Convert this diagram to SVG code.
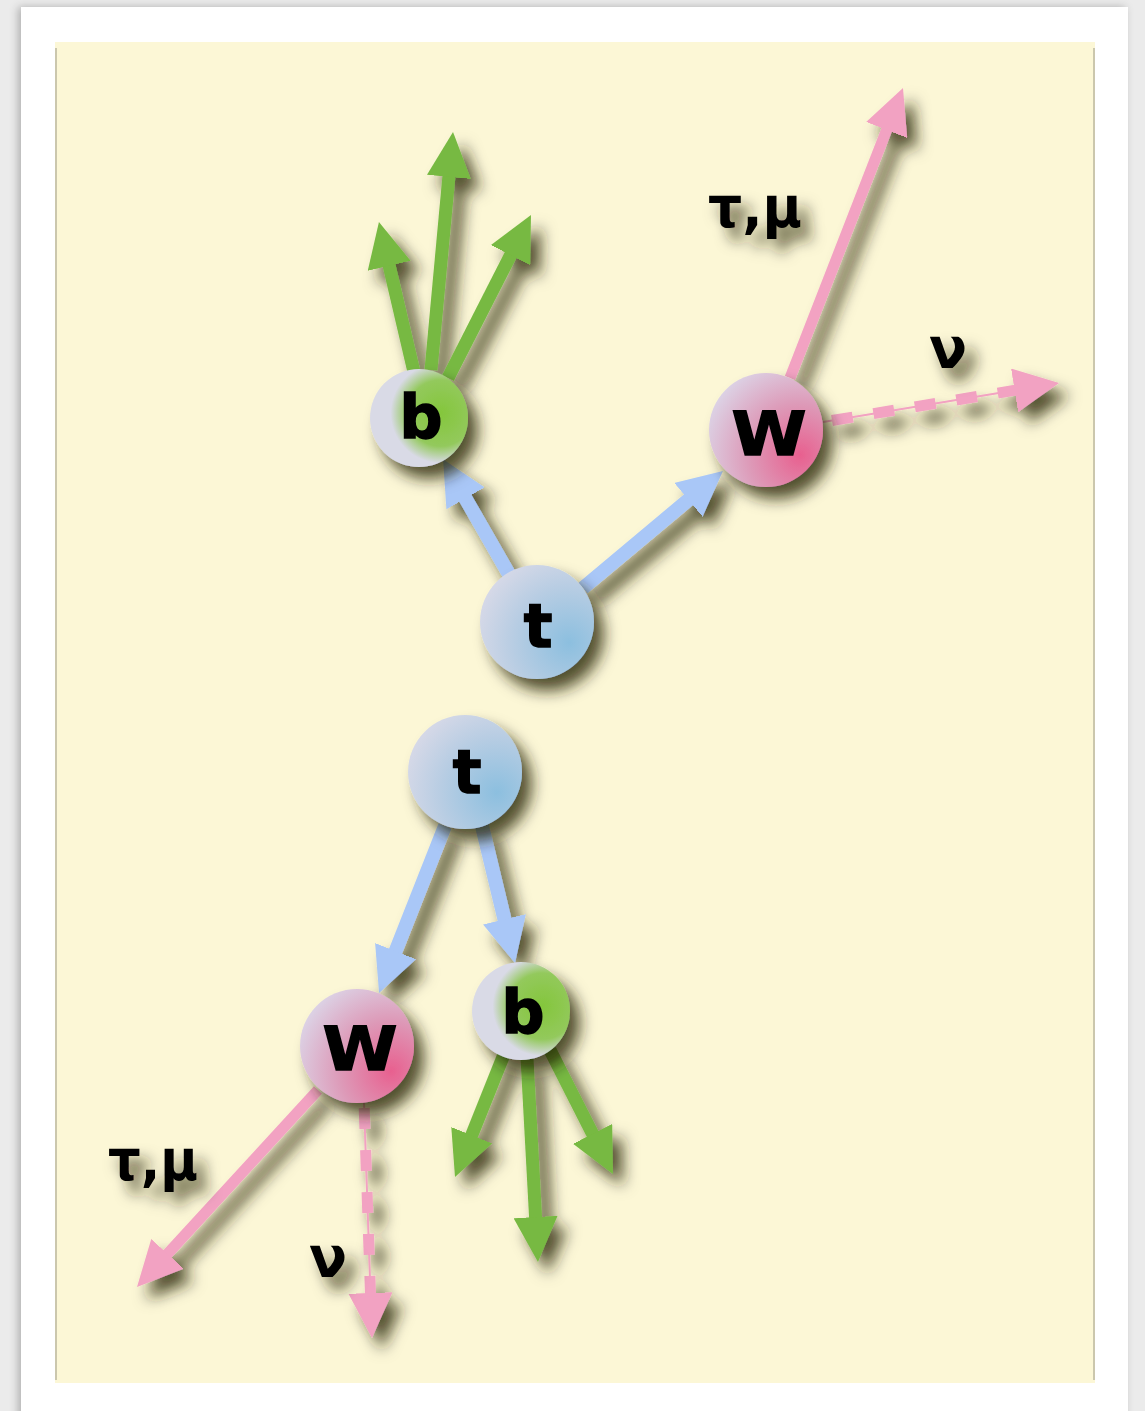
<svg xmlns="http://www.w3.org/2000/svg" width="1145" height="1411" viewBox="0 0 1145 1411">
<defs>
<style>
.node-label{font-family:"DejaVu Sans","Liberation Sans",sans-serif;font-weight:bold;font-size:60px;fill:#000;stroke:#000;stroke-width:1.5px;text-anchor:middle}
.lab{font-family:"DejaVu Sans","Liberation Sans",sans-serif;font-weight:bold;font-size:56px;fill:#000}
.blue{stroke:#a9c7f7;stroke-width:14;fill:none;marker-end:url(#ahBlue)}
.green{stroke:#77b942;stroke-width:13;fill:none;marker-end:url(#ahGreen)}
.pink{stroke:#f2a2c2;stroke-width:11;fill:none;marker-end:url(#ahPink)}
.pinkthin{stroke:#f2a2c2;stroke-width:2;fill:none;marker-end:url(#ahPink)}
.pinkdash{stroke:#f2a2c2;stroke-width:11;fill:none;stroke-dasharray:21 21}
</style>
<filter id="sh" x="-30%" y="-30%" width="170%" height="170%">
<feGaussianBlur in="SourceAlpha" stdDeviation="7.5"/>
<feOffset dx="10" dy="12" result="o"/>
<feFlood flood-color="#222008" flood-opacity="0.78"/>
<feComposite in2="o" operator="in"/>
<feMerge><feMergeNode/><feMergeNode in="SourceGraphic"/></feMerge>
</filter>
<filter id="cardsh" x="-5%" y="-5%" width="110%" height="110%">
<feGaussianBlur in="SourceAlpha" stdDeviation="4"/>
<feOffset dx="-3" dy="0" result="o"/>
<feFlood flood-color="#000" flood-opacity="0.25"/>
<feComposite in2="o" operator="in"/>
<feMerge><feMergeNode/><feMergeNode in="SourceGraphic"/></feMerge>
</filter>
<marker id="ahBlue" markerUnits="userSpaceOnUse" viewBox="0 0 45 44" markerWidth="45" markerHeight="44" refX="10" refY="22" orient="auto"><path d="M0,0 L45,22 L0,44 Z" fill="#a9c7f7"/></marker>
<marker id="ahGreen" markerUnits="userSpaceOnUse" viewBox="0 0 45 44" markerWidth="45" markerHeight="44" refX="10" refY="22" orient="auto"><path d="M0,0 L45,22 L0,44 Z" fill="#77b942"/></marker>
<marker id="ahPink" markerUnits="userSpaceOnUse" viewBox="0 0 45 44" markerWidth="45" markerHeight="44" refX="10" refY="22" orient="auto"><path d="M0,0 L45,22 L0,44 Z" fill="#f2a2c2"/></marker>
<radialGradient id="gB" cx="0.72" cy="0.45" r="0.75">
<stop offset="0" stop-color="#84c63c"/>
<stop offset="0.45" stop-color="#93c95c"/>
<stop offset="0.68" stop-color="#d9dae6"/>
<stop offset="1" stop-color="#d9dae6"/>
</radialGradient>
<radialGradient id="gT" cx="0.78" cy="0.68" r="0.9">
<stop offset="0" stop-color="#8cbfdf"/>
<stop offset="0.55" stop-color="#b8cde3"/>
<stop offset="1" stop-color="#dcdbe8"/>
</radialGradient>
<radialGradient id="gW" cx="0.8" cy="0.72" r="0.9">
<stop offset="0" stop-color="#e8608f"/>
<stop offset="0.5" stop-color="#dd9ab8"/>
<stop offset="1" stop-color="#dcd6e8"/>
</radialGradient>
</defs>

<rect x="0" y="0" width="1145" height="1411" fill="#ebebeb"/>
<rect x="21" y="7" width="1107" height="1420" fill="#ffffff" filter="url(#cardsh)"/>
<rect x="55" y="42" width="1040" height="1341" fill="#fcf7d6"/>
<line x1="56" y1="48" x2="56" y2="1380" stroke="#cbc7ad" stroke-width="2"/>
<line x1="1094" y1="48" x2="1094" y2="1380" stroke="#cbc7ad" stroke-width="2"/>

<g id="connectors" filter="url(#sh)">
<line class="blue" x1="510" y1="576" x2="460.5" y2="489.7"/>
<line class="blue" x1="583" y1="588" x2="696.1" y2="493.4"/>
<line class="blue" x1="445" y1="826" x2="391.9" y2="960.5"/>
<line class="blue" x1="482" y1="826" x2="506.8" y2="929"/>
<line class="green" x1="414" y1="372" x2="386.9" y2="256.1"/>
<line class="green" x1="431" y1="370" x2="449.8" y2="166.9"/>
<line class="green" x1="448" y1="378" x2="515.1" y2="246.2"/>
<line class="green" x1="505" y1="1052" x2="468" y2="1144.5"/>
<line class="green" x1="527" y1="1058" x2="536.1" y2="1227"/>
<line class="green" x1="550" y1="1050" x2="597.1" y2="1142.8"/>
<line class="pink" x1="790" y1="378" x2="890.3" y2="120.6"/>
<line class="pink" x1="318" y1="1090" x2="160.7" y2="1261.2"/>
<line class="pinkthin" x1="823" y1="422" x2="1024.5" y2="388.7"/>
<line class="pinkdash" x1="832" y1="420.5" x2="1024.5" y2="388.7"/>
<line class="pinkthin" x1="364" y1="1103" x2="370.8" y2="1303"/>
<line class="pinkdash" x1="364.2" y1="1108" x2="370.8" y2="1303"/>
</g>

<g id="node-t1" filter="url(#sh)">
<circle cx="537" cy="622" r="57" fill="url(#gT)"/>
<text class="node-label" x="538" y="647">t</text>
</g>
<g id="node-b1" filter="url(#sh)">
<circle cx="419" cy="418" r="49" fill="url(#gB)"/>
<text class="node-label" x="421" y="438">b</text>
</g>
<g id="node-W1" filter="url(#sh)">
<circle cx="766" cy="430" r="57" fill="url(#gW)"/>
<text class="node-label" x="769" y="455" textLength="75" lengthAdjust="spacingAndGlyphs">W</text>
</g>
<g id="node-t2" filter="url(#sh)">
<circle cx="465" cy="772" r="57" fill="url(#gT)"/>
<text class="node-label" x="467" y="793">t</text>
</g>
<g id="node-W2" filter="url(#sh)">
<circle cx="357" cy="1046" r="57" fill="url(#gW)"/>
<text class="node-label" x="360" y="1070" textLength="75" lengthAdjust="spacingAndGlyphs">W</text>
</g>
<g id="node-b2" filter="url(#sh)">
<circle cx="521" cy="1011" r="49" fill="url(#gB)"/>
<text class="node-label" x="523" y="1033">b</text>
</g>

<g id="labels" filter="url(#sh)">
<text class="lab" x="708" y="227" textLength="94" lengthAdjust="spacingAndGlyphs">τ,μ</text>
<text class="lab" x="108" y="1180" textLength="90" lengthAdjust="spacingAndGlyphs">τ,μ</text>
<text class="lab" x="929" y="368">ν</text>
<text class="lab" x="309" y="1277">ν</text>
</g>
</svg>
